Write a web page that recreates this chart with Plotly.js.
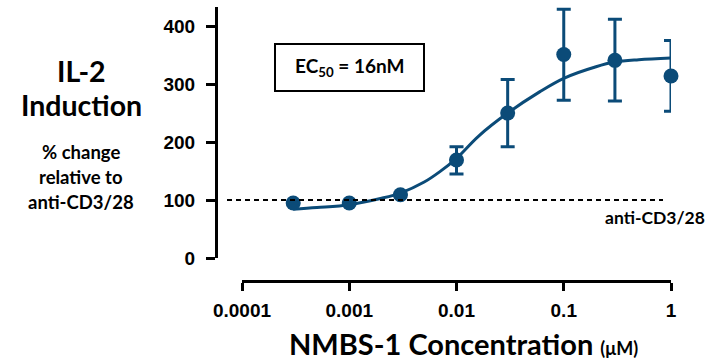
<!DOCTYPE html>
<html>
<head>
<meta charset="utf-8">
<script src="https://cdn.plot.ly/plotly-3.0.1.min.js"></script>
<style>html,body{margin:0;padding:0;background:#fff;}</style>
</head>
<body>
<div id="chart" style="width:711px;height:360px;"></div>
<script>
// Measured points (concentration in µM, IL-2 % of anti-CD3/28)
const conc = [0.0003, 0.001, 0.003, 0.01, 0.03, 0.1, 0.3, 1];
const il2 = [95, 95, 109, 169, 250, 351, 341, 314];
const errPlus = [0, 0, 0, 23, 58, 78, 71, 61];
const errMinus = [0, 0, 0, 24, 58, 79, 70, 61];
// Fitted curve
const fitConc = [0.0003, 0.0005, 0.001, 0.002, 0.003, 0.005, 0.007, 0.01, 0.016, 0.03, 0.06, 0.1, 0.2, 0.3, 0.5, 1];
const fitVal = [84, 87, 92, 103, 112, 131, 149, 172, 210, 250, 287, 310, 330, 338, 342, 345];
const baseline = 100;
const xTicks = [0.0001, 0.001, 0.01, 0.1, 1];
const xTickText = ['0.0001', '0.001', '0.01', '0.1', '1'];
const yTicks = [0, 100, 200, 300, 400];

const blue = '#0b4b78';
const W = 711, H = 360;
const px = v => v / W;
const py = v => 1 - v / H;
const cal = 'Lato, "Open Sans", sans-serif';
const ar = '"Liberation Sans", Arial, sans-serif';

const traces = [
  {
    x: fitConc, y: fitVal, type: 'scatter', mode: 'lines',
    line: {color: blue, width: 3, shape: 'spline', smoothing: 1},
    hoverinfo: 'skip', cliponaxis: false
  },
  {
    x: conc, y: il2, type: 'scatter', mode: 'markers',
    marker: {color: blue, size: 15},
    error_y: {type: 'data', symmetric: false, array: errPlus, arrayminus: errMinus,
              color: blue, thickness: 3, width: 7},
    cliponaxis: false
  }
];

function note(text, x, y, size) {
  return {text: text, xref: 'paper', yref: 'paper', x: px(x), y: py(y),
          xanchor: 'center', yanchor: 'middle', showarrow: false,
          font: {family: cal, size: size, color: '#000', weight: 'bold'}};
}

const layout = {
  width: W, height: H,
  margin: {l: 0, r: 0, t: 0, b: 0},
  paper_bgcolor: '#fff', plot_bgcolor: '#fff',
  showlegend: false,
  xaxis: {
    type: 'log', range: [-4, 0], domain: [px(242), px(671)],
    anchor: 'free', position: py(281),
    showgrid: false, zeroline: false,
    showline: true, linecolor: '#000', linewidth: 3,
    ticks: 'outside', ticklen: 8, tickwidth: 3, tickcolor: '#000',
    tickvals: xTicks, ticktext: xTickText,
    tickfont: {family: ar, size: 19, color: '#000', weight: 'bold'},
    ticklabelstandoff: 3
  },
  yaxis: {
    range: [0, 433], domain: [py(258), py(7)],
    anchor: 'free', position: px(216),
    showgrid: false, zeroline: false,
    showline: true, linecolor: '#000', linewidth: 3,
    ticks: 'outside', ticklen: 9, tickwidth: 3, tickcolor: '#000',
    tickvals: yTicks,
    tickfont: {family: ar, size: 19, color: '#000', weight: 'bold'},
    ticklabelstandoff: 7
  },
  shapes: [
    {type: 'line', xref: 'paper', yref: 'y', x0: px(227), x1: px(663), y0: baseline, y1: baseline,
     line: {color: '#000', width: 2, dash: '5px,4px'}},
    {type: 'rect', xref: 'paper', yref: 'paper', x0: px(275), x1: px(424), y0: py(91), y1: py(44),
     line: {color: '#000', width: 2}, fillcolor: 'rgba(0,0,0,0)'}
  ],
  annotations: [
    note('IL-2', 81, 71, 28.5),
    note('Induction', 81, 105, 28.5),
    note('% change', 81, 152, 18.5),
    note('relative to', 81, 177, 18.5),
    note('anti-CD3/28', 81, 202, 18.5),
    note('EC<sub>50</sub> = 16nM', 349, 67, 19),
    note('anti-CD3/28', 655, 218, 17.5),
    note("NMBS-1 Concentration <span style='font-size:18px'>(μM)</span>", 463, 343, 29)
  ]
};

Plotly.newPlot('chart', traces, layout, {displayModeBar: false, staticPlot: true});
</script>
</body>
</html>
